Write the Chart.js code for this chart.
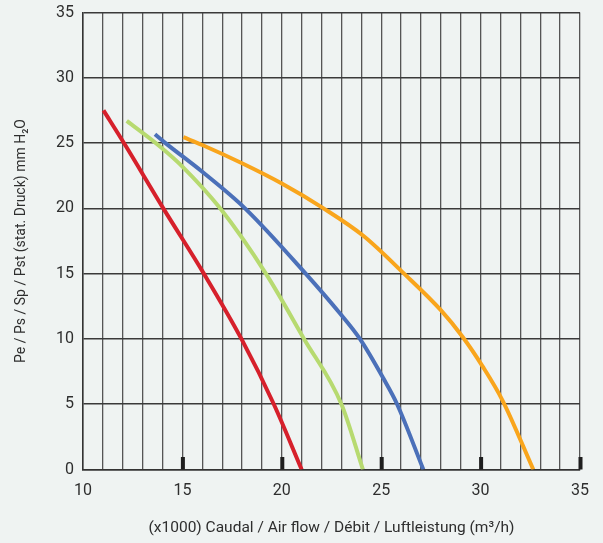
<!DOCTYPE html>
<html>
<head>
<meta charset="utf-8">
<script src="https://cdn.jsdelivr.net/npm/chart.js@4/dist/chart.umd.min.js"></script>
<style>
  html, body { margin: 0; padding: 0; background: #eff3f2; }
  #wrap { width: 603px; height: 543px; }
</style>
</head>
<body>
<div id="wrap"><canvas id="fanChart" width="603" height="543"></canvas></div>
<script>
// Curvas de ventiladores (caudal x1000 m3/h, presión mm H2O)
const redFlow = [11.03, 12.06, 14.04, 16.08, 17.97, 19.6, 21.0];
const redPress = [27.5, 25, 20, 15, 10, 5, 0];

const greenFlow = [12.2, 13.9, 15, 16.9, 19.2, 21.12, 23.0, 24.08];
const greenPress = [26.7, 24.7, 23.2, 20, 15, 10, 5, 0];

const blueFlow = [13.62, 14.15, 16, 18.15, 21.2, 22.9, 23.93, 25.1, 25.8, 27.12];
const bluePress = [25.67, 25, 22.8, 20, 15, 12, 10, 7, 5, 0];

const orangeFlow = [15.05, 16, 18, 20, 22.1, 24.1, 26.15, 28, 29.1, 30.1, 31.1, 32.65];
const orangePress = [25.45, 24.85, 23.45, 21.9, 20, 17.9, 15, 12.2, 10.15, 7.9, 5.3, 0];

const majorTicks = [15, 20, 25, 30, 35];

const fontFam = "Roboto, 'Liberation Sans', Arial, sans-serif";
const textColor = '#2e2e2e';

function toPoints(xs, ys) {
    return xs.map((x, i) => ({ x: x, y: ys[i] }));
}

function curve(xs, ys, color) {
    return {
        data: toPoints(xs, ys),
        showLine: true,
        borderColor: color,
        borderWidth: 4,
        pointRadius: 0,
        fill: false,
        cubicInterpolationMode: 'monotone'
    };
}

// Marcas gruesas en el eje x (cada 5)
const thickTicks = {
    id: 'thickTicks',
    afterDatasetsDraw(chart) {
        const xs = chart.scales.x;
        const bottom = chart.chartArea.bottom;
        const ctx = chart.ctx;
        ctx.save();
        ctx.fillStyle = '#1e1e1e';
        majorTicks.forEach(v => {
            const px = xs.getPixelForValue(v);
            ctx.fillRect(px - 1.5, bottom - 12.5, 4, 12.5);
        });
        ctx.restore();
    }
};

const bgPlugin = {
    id: 'bg',
    beforeDraw(chart) {
        const ctx = chart.ctx;
        ctx.save();
        ctx.fillStyle = '#eff3f2';
        ctx.fillRect(0, 0, chart.width, chart.height);
        ctx.restore();
    }
};

new Chart(document.getElementById('fanChart'), {
    type: 'scatter',
    data: {
        datasets: [
            curve(redFlow, redPress, '#d6202b'),
            curve(greenFlow, greenPress, '#b7da70'),
            curve(blueFlow, bluePress, '#4b70b9'),
            curve(orangeFlow, orangePress, '#f9a51c')
        ]
    },
    options: {
        responsive: false,
        animation: false,
        layout: { padding: { left: 0, right: 23, top: 12.5, bottom: 0 } },
        plugins: {
            legend: { display: false },
            tooltip: { enabled: false }
        },
        scales: {
            x: {
                type: 'linear',
                min: 10,
                max: 35,
                afterFit: s => { s.height = 73.5; },
                border: { display: true, color: '#333', width: 1.5 },
                grid: { color: '#555', lineWidth: 1.3, drawTicks: false },
                ticks: {
                    stepSize: 1,
                    autoSkip: false,
                    maxRotation: 0,
                    padding: 12,
                    color: textColor,
                    font: { family: fontFam, size: 16 },
                    callback: v => (v % 5 === 0 ? String(v) : '')
                },
                title: {
                    display: true,
                    text: '(x1000) Caudal / Air flow / Débit / Luftleistung (m³/h)',
                    color: textColor,
                    font: { family: fontFam, size: 15.5 },
                    padding: { top: 0, bottom: 6 }
                }
            },
            y: {
                type: 'linear',
                min: 0,
                max: 35,
                afterFit: s => {
                    s.width = 83;
                    s.paddingTop = 0;
                    s.paddingBottom = 0;
                },
                border: { display: true, color: '#333', width: 1.5 },
                grid: { color: '#3a3a3a', lineWidth: 1.5, drawTicks: false },
                ticks: {
                    stepSize: 5,
                    padding: 9,
                    color: textColor,
                    font: { family: fontFam, size: 16 }
                },
                title: {
                    display: true,
                    text: 'Pe / Ps / Sp / Pst (stat. Druck) mm H₂O',
                    color: textColor,
                    font: { family: fontFam, size: 14 },
                    padding: { top: 13, bottom: 0 }
                }
            }
        }
    },
    plugins: [bgPlugin, thickTicks]
});
</script>
</body>
</html>
